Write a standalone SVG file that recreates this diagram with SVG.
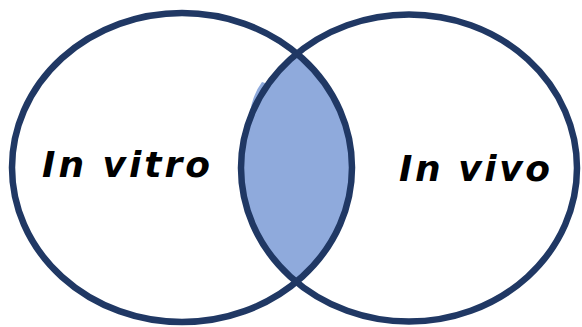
<svg xmlns="http://www.w3.org/2000/svg" width="582" height="327" viewBox="0 0 582 327">
  <style>
    .ring { fill: none; stroke: #203864; stroke-width: 6.5; }
    .lens { fill: #8faadc; }
    .lbl { font-family: "DejaVu Sans", "Liberation Sans", sans-serif; font-weight: bold; font-style: italic; font-size: 36px; fill: #000; }
  </style>
  <defs>
    <clipPath id="clipLeft">
      <ellipse cx="182" cy="167.5" rx="170" ry="154.5"/>
    </clipPath>
  </defs>
  <rect width="582" height="327" fill="#fff"/>
  <g id="overlap">
    <path class="lens" d="M262,82 Q252,95 249,118 L256,118 Q258,98 268,84 Z"/>
    <ellipse class="lens" cx="409" cy="168" rx="168" ry="153.5" clip-path="url(#clipLeft)"/>
  </g>
  <g id="in-vitro">
    <ellipse class="ring" cx="182" cy="167.5" rx="170" ry="154.5"/>
    <text class="lbl" x="42" y="177" textLength="168" lengthAdjust="spacing">In vitro</text>
  </g>
  <g id="in-vivo">
    <ellipse class="ring" cx="409" cy="168" rx="168" ry="153.5"/>
    <text class="lbl" x="399" y="181" textLength="151" lengthAdjust="spacing">In vivo</text>
  </g>
  <g id="connectors"/>
</svg>
